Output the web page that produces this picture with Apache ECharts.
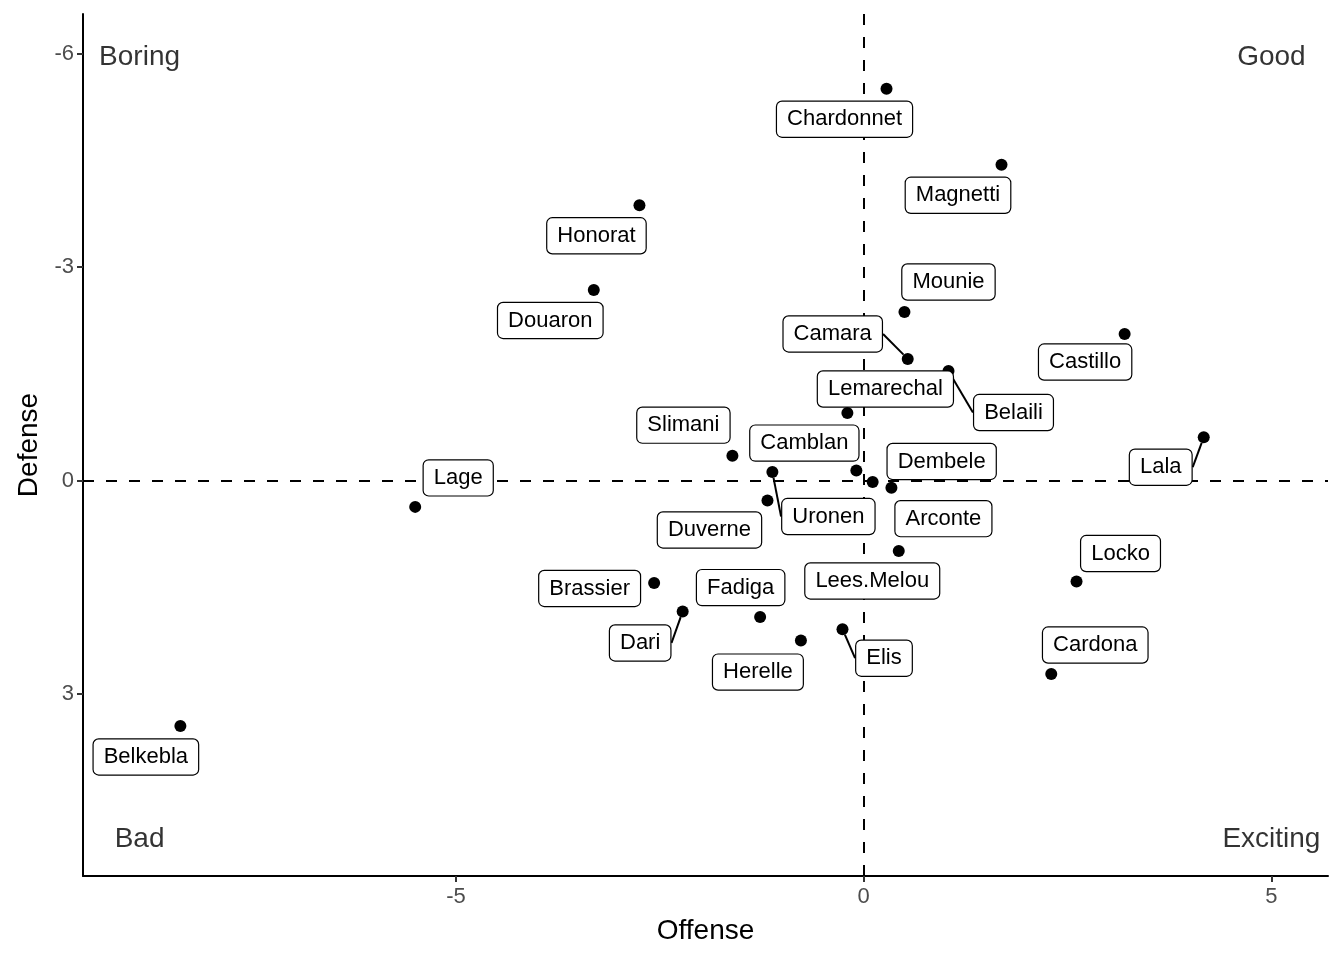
<!DOCTYPE html>
<html>
<head>
<meta charset="utf-8">
<script src="https://cdn.jsdelivr.net/npm/echarts@6/dist/echarts.min.js"></script>
<style>
html,body{margin:0;padding:0;background:#fff;}
#chart{width:1344px;height:960px;}
</style>
</head>
<body>
<div id="chart"></div>
<script>
// ---- data ----
const players = ['Chardonnet','Magnetti','Honorat','Douaron','Mounie','Castillo','Camara','Belaili','Lemarechal','Lala','Slimani','Camblan','Uronen','Dembele','Arconte','Duverne','Lage','Lees.Melou','Brassier','Locko','Dari','Fadiga','Elis','Herelle','Cardona','Belkebla'];
const offense = [0.28,1.69,-2.75,-3.31,0.50,3.20,0.54,1.04,-0.20,4.17,-1.61,-0.09,-1.12,0.11,0.34,-1.18,-5.50,0.43,-2.57,2.61,-2.22,-1.27,-0.26,-0.77,2.30,-8.38];
const defense = [-5.51,-4.44,-3.87,-2.68,-2.37,-2.06,-1.71,-1.54,-0.95,-0.61,-0.35,-0.14,-0.12,0.02,0.10,0.28,0.37,0.99,1.44,1.42,1.84,1.92,2.09,2.25,2.72,3.45];
const quadrantNames = ['Boring','Good','Bad','Exciting'];
const quadrantX = [-8.88,5,-8.88,5];
const quadrantY = [-6,-6,5,5];
const xTicks = [-5,0,5];
const yTicks = [-6,-3,0,3];

// ---- label layout (repelled label offsets in px, not data) ----
const labelShift = {
  'Chardonnet':[-42,30.5],'Magnetti':[-43.5,30.5],'Honorat':[-43,30.5],'Douaron':[-43.5,30.5],
  'Mounie':[44,-30],'Castillo':[-39.5,28],'Camara':[-75,-25],'Belaili':[65,41.5],
  'Lemarechal':[38,-24],'Lala':[-43,30],'Slimani':[-49,-30.5],'Camblan':[-52,-27.5],
  'Uronen':[56,44.5],'Dembele':[69,-20.5],'Arconte':[52,31],'Duverne':[-58,29.5],
  'Lage':[43,-29],'Lees.Melou':[-26.5,30],'Brassier':[-64.5,5.5],'Locko':[44,-28],
  'Dari':[-42.5,31.5],'Fadiga':[-19.5,-29.5],'Elis':[41.5,29],'Herelle':[-43,31.5],
  'Cardona':[44,-29],'Belkebla':[-34.5,31]
};
const withSegment = ['Camara','Belaili','Lala','Uronen','Dari','Elis'];

const FONT = 'Liberation Sans, Arial, Helvetica, sans-serif';

const playerData = players.map((n, i) => {
  const d = { name: n, value: [offense[i], defense[i]] };
  if (withSegment.indexOf(n) >= 0) {
    d.labelLine = { show: true, lineStyle: { color: '#000', width: 2 } };
  }
  return d;
});
const quadData = quadrantNames.map((n, i) => ({ name: n, value: [quadrantX[i], quadrantY[i]] }));

const chart = echarts.init(document.getElementById('chart'), null, { renderer: 'canvas' });
chart.setOption({
  animation: false,
  backgroundColor: '#fff',
  textStyle: { fontFamily: FONT },
  grid: { left: 83, right: 16, top: 14, bottom: 84, containLabel: false },
  xAxis: {
    type: 'value', min: -9.574, max: 5.694,
    name: 'Offense', nameLocation: 'middle', nameGap: 41,
    nameTextStyle: { fontSize: 28, color: '#000', fontFamily: FONT },
    splitLine: { show: false },
    axisLine: { show: true, onZero: false, lineStyle: { color: '#000', width: 2 } },
    axisTick: { show: true, length: 6, customValues: xTicks, lineStyle: { color: '#333', width: 2 } },
    axisLabel: { customValues: xTicks, fontSize: 22, color: '#4d4d4d', margin: 10, fontFamily: FONT }
  },
  yAxis: {
    type: 'value', inverse: true, min: -6.56, max: 5.56,
    name: 'Defense', nameLocation: 'middle', nameGap: 40, nameRotate: 90,
    nameTextStyle: { fontSize: 28, color: '#000', fontFamily: FONT },
    splitLine: { show: false },
    axisLine: { show: true, onZero: false, lineStyle: { color: '#000', width: 2 } },
    axisTick: { show: true, length: 6, customValues: yTicks, lineStyle: { color: '#333', width: 2 } },
    axisLabel: { customValues: yTicks, fontSize: 22, color: '#4d4d4d', margin: 9, fontFamily: FONT, padding: [5, 0, 0, 0] }
  },
  series: [
    {
      type: 'scatter', z: 1, silent: true, data: [], symbolSize: 0,
      markLine: {
        z: 1, silent: true, symbol: 'none', animation: false,
        label: { show: false },
        lineStyle: { color: '#000', width: 2, type: [11, 12] },
        emphasis: { disabled: true },
        data: [{ xAxis: 0 }, { yAxis: 0 }]
      }
    },
    {
      type: 'scatter', z: 3, silent: true,
      symbol: 'circle', symbolSize: 12,
      itemStyle: { color: '#000', opacity: 1 },
      data: playerData,
      label: {
        show: true, position: 'inside', formatter: '{b}',
        fontSize: 22, lineHeight: 25, color: '#000', fontFamily: FONT,
        backgroundColor: '#fff', borderColor: '#000', borderWidth: 1.2, borderRadius: 5,
        padding: [6, 10, 4, 10], align: 'center', verticalAlign: 'middle'
      },
      labelLine: { show: false },
      labelLayout: function (p) {
        const s = labelShift[players[p.dataIndex]] || [0, 0];
        return { dx: s[0], dy: s[1] };
      }
    },
    {
      type: 'scatter', z: 4, silent: true, symbolSize: 0,
      data: quadData,
      label: {
        show: true, position: 'inside', formatter: '{b}', offset: [0, 3],
        fontSize: 28, color: '#000', fontFamily: FONT, align: 'center', verticalAlign: 'middle'
      }
    }
  ]
});
</script>
</body>
</html>
